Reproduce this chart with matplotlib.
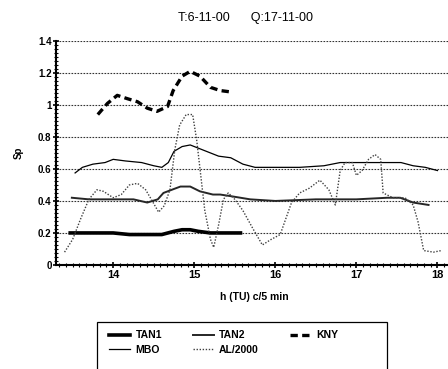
import matplotlib
matplotlib.use('Agg')
import matplotlib.pyplot as plt
from matplotlib.patches import Rectangle
from matplotlib.ticker import MultipleLocator

plt.rcParams['font.family'] = ['Liberation Sans', 'DejaVu Sans']

# valeurs (heure TU, Sp)
tan1_h = [13.47, 13.6, 13.8, 14.0, 14.2, 14.4, 14.6, 14.75, 14.85, 14.95, 15.05, 15.2, 15.35, 15.57]
tan1_v = [0.20, 0.20, 0.20, 0.20, 0.19, 0.19, 0.19, 0.21, 0.22, 0.22, 0.21, 0.20, 0.20, 0.20]

tan2_h = [13.49, 13.7, 14.0, 14.25, 14.42, 14.55, 14.62, 14.75, 14.83, 14.95, 15.07, 15.23,
          15.32, 15.45, 15.69, 16.0, 16.5, 17.0, 17.38, 17.54, 17.7, 17.89]
tan2_v = [0.42, 0.41, 0.41, 0.41, 0.39, 0.41, 0.45, 0.475, 0.49, 0.49, 0.46, 0.44,
          0.44, 0.43, 0.41, 0.40, 0.41, 0.41, 0.42, 0.42, 0.39, 0.375]

kny_h = [13.81, 13.93, 14.05, 14.17, 14.3, 14.42, 14.54, 14.67, 14.74, 14.85, 14.95, 15.07,
         15.2, 15.32, 15.47]
kny_v = [0.94, 1.01, 1.06, 1.04, 1.02, 0.98, 0.96, 0.99, 1.09, 1.18, 1.21, 1.18,
         1.11, 1.09, 1.08]

mbo_h = [13.53, 13.62, 13.75, 13.9, 14.0, 14.15, 14.35, 14.5, 14.6, 14.68, 14.75, 14.85,
         14.95, 15.05, 15.15, 15.3, 15.45, 15.6, 15.75, 16.0, 16.3, 16.6, 16.8, 17.0,
         17.3, 17.55, 17.7, 17.85, 18.0]
mbo_v = [0.575, 0.61, 0.63, 0.64, 0.66, 0.65, 0.64, 0.62, 0.61, 0.64, 0.71, 0.74,
         0.75, 0.73, 0.71, 0.68, 0.67, 0.63, 0.61, 0.61, 0.61, 0.62, 0.64, 0.64,
         0.64, 0.64, 0.62, 0.61, 0.59]

al_h = [13.4, 13.5, 13.6, 13.7, 13.8, 13.88, 14.0, 14.1, 14.2, 14.3, 14.4, 14.47, 14.56,
        14.63, 14.7, 14.76, 14.82, 14.9, 14.98, 15.03, 15.08, 15.13, 15.2, 15.24, 15.3,
        15.36, 15.42, 15.5, 15.6, 15.72, 15.84, 15.95, 16.06, 16.2, 16.3, 16.42, 16.55,
        16.66, 16.74, 16.8, 16.86, 16.95, 17.0, 17.07, 17.15, 17.23, 17.3, 17.33, 17.45,
        17.6, 17.7, 17.76, 17.83, 17.95, 18.05]
al_v = [0.08, 0.16, 0.29, 0.41, 0.47, 0.46, 0.42, 0.44, 0.50, 0.51, 0.47, 0.41, 0.33,
        0.37, 0.47, 0.72, 0.875, 0.94, 0.94, 0.78, 0.56, 0.34, 0.16, 0.11, 0.25,
        0.41, 0.45, 0.41, 0.34, 0.23, 0.125, 0.16, 0.19, 0.39, 0.45, 0.48, 0.53,
        0.47, 0.375, 0.59, 0.64, 0.64, 0.56, 0.59, 0.66, 0.69, 0.66, 0.45, 0.42,
        0.42, 0.375, 0.27, 0.09, 0.08, 0.09]

x_ticks = [14, 15, 16, 17, 18]
y_ticks = [0, 0.2, 0.4, 0.6, 0.8, 1.0, 1.2, 1.4]
y_labels = ['0', '0.2', '0.4', '0.6', '0.8', '1', '1.2', '1.4']

fig = plt.figure(figsize=(4.48, 3.69), dpi=100)
ax = fig.add_axes([0.126, 0.282, 0.874, 0.607])

# grille horizontale pointillée
for yv in y_ticks[1:]:
    ax.axhline(yv, color='0.2', lw=0.8, ls=(0, (1.5, 1.2)), zorder=1)

ax.plot(tan1_h, tan1_v, color='black', lw=2.6, label='TAN1', zorder=3)
ax.plot(mbo_h, mbo_v, color='black', lw=0.9, label='MBO', zorder=3)
ax.plot(tan2_h, tan2_v, color='0.15', lw=1.4, label='TAN2', zorder=3)
ax.plot(al_h, al_v, color='0.25', lw=1.0, ls=(0, (1, 1.2)), label='AL/2000', zorder=3)
ax.plot(kny_h, kny_v, color='black', lw=2.4, ls=(0, (2.2, 1.3)), label='KNY', zorder=3)

ax.set_xlim(13.3, 18.13)
ax.set_ylim(0, 1.4)
ax.set_xticks(x_ticks)
ax.set_xticklabels([str(v) for v in x_ticks], fontsize=8, fontweight='bold')
ax.set_yticks(y_ticks)
ax.set_yticklabels(y_labels, fontsize=7, fontweight='bold')
ax.xaxis.set_minor_locator(MultipleLocator(1 / 12))
ax.yaxis.set_minor_locator(MultipleLocator(0.025))
ax.tick_params(which='major', direction='inout', length=5, width=1.2, pad=1)
ax.tick_params(which='minor', direction='inout', length=3, width=0.8)

ax.spines['top'].set_visible(False)
ax.spines['right'].set_visible(False)
ax.spines['left'].set_linewidth(1.5)
ax.spines['bottom'].set_linewidth(1.5)

ax.set_xlabel('h (TU) c/5 min', fontsize=7.5, fontweight='bold')
ax.xaxis.set_label_coords(0.505, -0.12)
ax.set_ylabel('Sp', fontsize=7, fontweight='bold', labelpad=10)

fig.text(0.547, 0.951, 'T:6-11-00      Q:17-11-00', fontsize=9, ha='center', va='center')

# cadre de légende (coupé par le bas de l'image)
fig.patches.append(Rectangle((97 / 448, -0.02), 290 / 448, 1 - 322 / 369 + 0.02,
                             transform=fig.transFigure, fill=False, edgecolor='black',
                             lw=0.9))
leg = fig.legend(loc='upper left', bbox_to_anchor=(100 / 448, 1 - 321 / 369), ncol=3,
                 prop={'weight': 'bold', 'size': 7.5}, frameon=False,
                 handlelength=2.0, columnspacing=3.0, borderpad=0.4,
                 labelspacing=0.45, handletextpad=0.5)

plt.savefig('out.png', dpi=100)
